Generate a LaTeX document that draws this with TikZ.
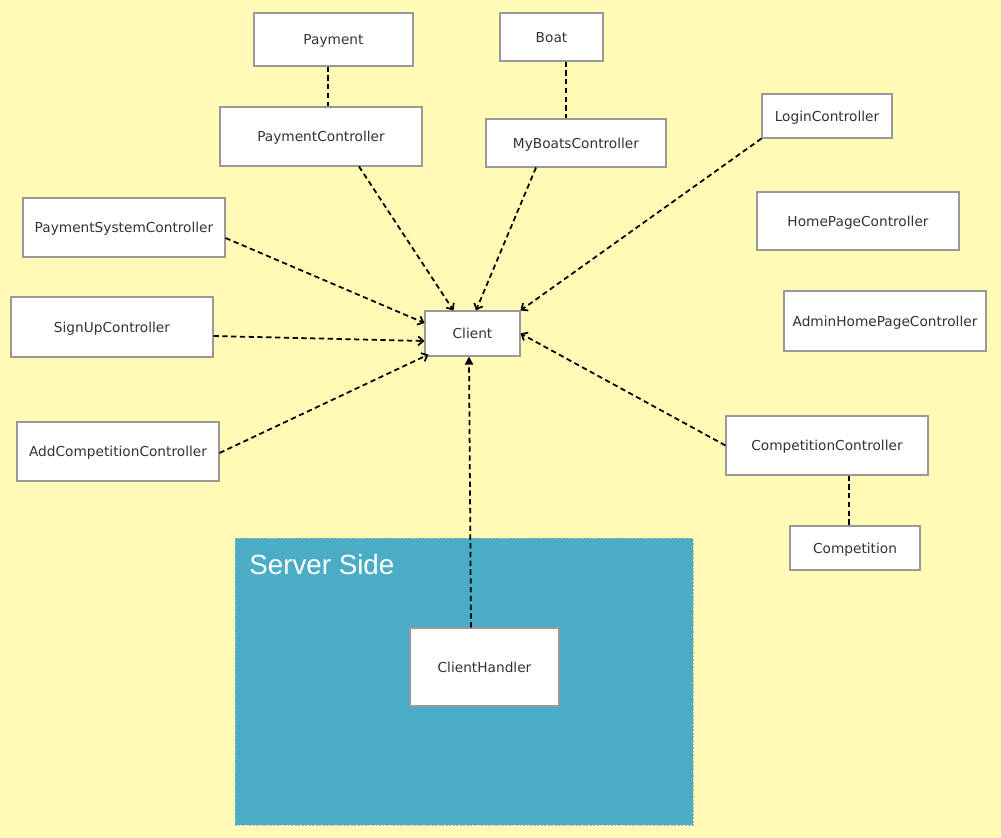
\documentclass[tikz,border=0pt]{standalone}
\usepackage{fontspec}
\setmainfont{DejaVu Sans}
\newfontfamily\titlefont{Liberation Sans}
\usetikzlibrary{arrows.meta,calc}
\definecolor{paper}{HTML}{FFFAB5}
\definecolor{server}{HTML}{4BACC6}
\definecolor{boxedge}{HTML}{999999}
\definecolor{boxtext}{HTML}{333333}

\begin{document}
\begin{tikzpicture}[x=0.2mm,y=-0.2mm,
  cls/.style={draw=boxedge,fill=white,line width=.6pt,inner sep=0pt,text=boxtext,text height=7pt,text depth=1pt,font=\fontsize{7.8}{9}\selectfont},
  wide/.style={cls,minimum width=40.4mm,minimum height=11.8mm},
  uses/.style={-{Straight Barb[length=1mm,width=1.8mm]},line width=1pt,dash pattern=on 3pt off 2pt},
  calls/.style={-{Triangle[length=1.6mm,width=1.6mm]},line width=1pt,dash pattern=on 3pt off 2pt},
  link/.style={line width=1pt,dash pattern=on 3pt off 2pt}]
 \fill[paper] (0,0) rectangle (1001,838);
 \useasboundingbox (0,0) rectangle (1001,838);
 % server side
 \node[fill=server,draw=black!30,line width=.4pt,dash pattern=on 1pt off 1pt,minimum width=91.6mm,minimum height=57.4mm,inner sep=0pt] (server) at (464,681.5) {};
 \node[anchor=base west,inner sep=0pt,text=white,font=\titlefont\fontsize{15.8}{18}\selectfont] (servertitle) at (249,574) {Server Side};
 % classes
 \node[cls,minimum width=31.8mm,minimum height=10.6mm] (pay) at (333.5,39.5) {Payment};
 \node[cls,minimum width=20.6mm,minimum height=9.6mm] (boat) at (551.5,37) {Boat};
 \node[wide] (pc) at (321,136.5) {PaymentController};
 \node[cls,minimum width=36mm,minimum height=9.6mm] (mb) at (576,143) {MyBoatsController};
 \node[cls,minimum width=26mm,minimum height=8.8mm] (login) at (827,116) {LoginController};
 \node[wide,minimum height=11.6mm] (home) at (858,221) {HomePageController};
 \node[wide,minimum height=12mm] (admin) at (885,321) {AdminHomePageController};
 \node[wide] (psc) at (124,227.5) {PaymentSystemController};
 \node[wide,minimum height=12mm] (su) at (112,327) {SignUpController};
 \node[wide] (ac) at (118,451.5) {AddCompetitionController};
 \node[cls,minimum width=19mm,minimum height=9mm] (client) at (472.5,333.5) {Client};
 \node[wide] (cc) at (827,445.5) {CompetitionController};
 \node[cls,minimum width=26mm,minimum height=8.8mm] (comp) at (855,548) {Competition};
 \node[cls,minimum width=29.8mm,minimum height=15.6mm] (ch) at (484.5,667) {ClientHandler};
 % dependencies
 \draw[link] ($(pay.south)+(-5.5,0)$) coordinate (p1) -- (p1 |- pc.north);
 \draw[link] ($(boat.south)+(14.5,0)$) coordinate (b1) -- (b1 |- mb.north);
 \draw[link] ($(cc.south)+(22,0)$) coordinate (c1) -- (c1 |- comp.north);
 \draw[uses] ($(pc.south)+(38,0)$) -- ($(client.north)+(-19,0)$);
 \draw[uses] ($(mb.south)+(-40,0)$) -- ($(client.north)+(3.5,0)$);
 \draw[uses] (login.south west) -- (client.north east);
 \draw[uses] ($(psc.east)+(0,10.5)$) -- ($(client.west)+(0,-10.5)$);
 \draw[uses] ($(su.east)+(0,9)$) -- ($(client.west)+(0,7.5)$);
 \draw[uses] ($(ac.east)+(0,1.5)$) -- ($(client.south west)+(4,-2)$);
 \draw[uses] (cc.west) -- (client.east);
 \draw[calls] ($(ch.north)+(-13.5,0)$) -- ($(client.south)+(-3.5,0)$);
\end{tikzpicture}
\end{document}
